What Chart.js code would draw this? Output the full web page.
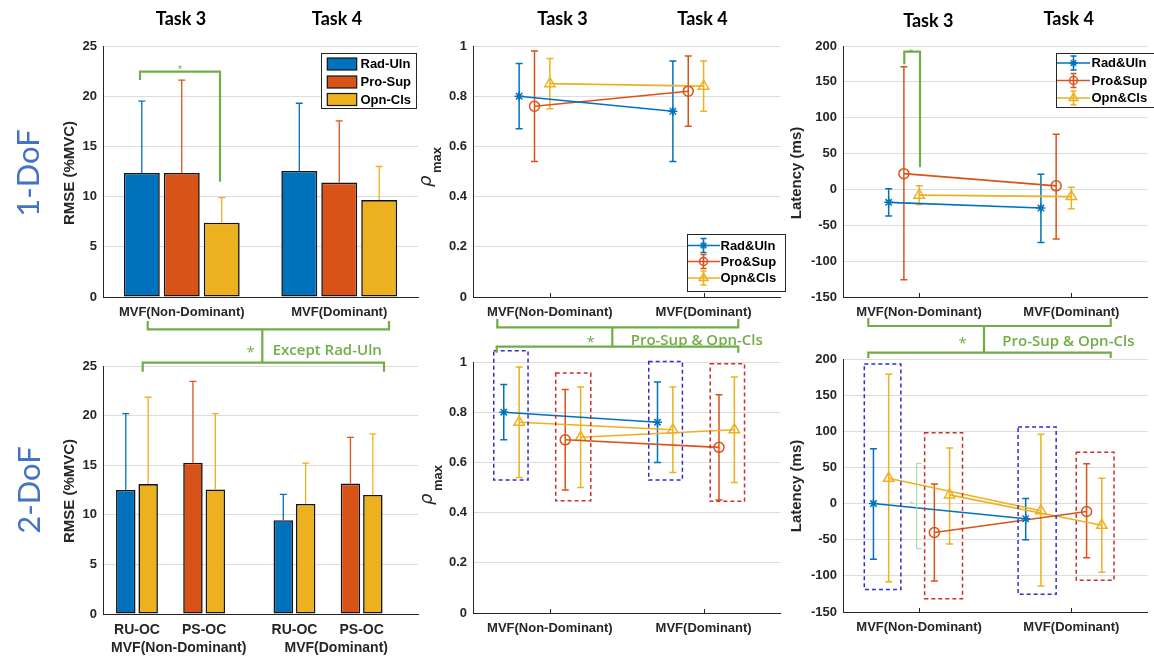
<!DOCTYPE html>
<html><head><meta charset="utf-8">
<script src="https://cdn.jsdelivr.net/npm/chart.js@4.4.1/dist/chart.umd.min.js"></script>
<style>
html,body{margin:0;padding:0;background:#fff;}
#wrap{position:relative;width:1154px;height:658px;overflow:hidden;background:#fff;}
#ov{position:absolute;left:0;top:0;z-index:5;}
.hdr{position:absolute;z-index:6;font-family:Lato,'Open Sans',sans-serif;font-weight:700;font-size:18px;color:#000;transform:translate(-50%,-50%);white-space:nowrap;line-height:1;}
.rowlab{position:absolute;z-index:6;font-family:Lato,'Open Sans',sans-serif;font-size:31px;color:#4472C4;transform:translate(-50%,-50%) rotate(-90deg);white-space:nowrap;line-height:1;}
</style></head>
<body>
<div id="wrap">
<svg id="ov" width="1154" height="658" viewBox="0 0 1154 658">
 <g fill="none" stroke="#70AD47" stroke-width="2.2">
  <path d="M140,80 V71.7 H220 V181.7"/>
  <path d="M904.3,64.3 V51.7 H920 V167.3"/>
  <path d="M147.7,321 V329.3 H389 V321 M262.3,329.3 V362.7 M142.7,371.7 V362.7 H384 V371.7"/>
  <path d="M497.3,319 V327.3 H738.3 V319 M612.3,327.3 V346.7 M496.7,352.7 V346.7 H738.3 V352.7"/>
  <path d="M868.3,318 V326 H1110.7 V318 M984,326 V352.7 M868.3,358 V352.7 H1110.7 V358"/>
 </g>
 <path d="M921.7,463.3 H916.7 V548.7 H921.7" fill="none" stroke="#A9D18E" stroke-width="1"/>
 <g fill="#70AD47" font-family="'Open Sans',Lato,sans-serif">
  <text x="180" y="72" font-size="9" text-anchor="middle">*</text>
  <text x="911" y="54" font-size="8" text-anchor="middle">*</text>
  <text x="250.7" y="357" font-size="15" text-anchor="middle">*</text>
  <text x="272.7" y="354.5" font-size="15" font-weight="600">Except Rad-Uln</text>
  <text x="590.7" y="347" font-size="15" text-anchor="middle">*</text>
  <text x="630.7" y="344.5" font-size="15" font-weight="600">Pro-Sup &amp; Opn-Cls</text>
  <text x="962.7" y="348" font-size="15" text-anchor="middle">*</text>
  <text x="1002.3" y="345.5" font-size="15" font-weight="600">Pro-Sup &amp; Opn-Cls</text>
  <text x="911.7" y="506" font-size="8" text-anchor="middle" fill="#A9D18E">*</text>
 </g>
</svg>
<div class="hdr" style="left:181px;top:18px">Task 3</div>
<div class="hdr" style="left:337px;top:18px">Task 4</div>
<div class="hdr" style="left:562.5px;top:18px">Task 3</div>
<div class="hdr" style="left:702.5px;top:18px">Task 4</div>
<div class="hdr" style="left:928.3px;top:20px">Task 3</div>
<div class="hdr" style="left:1068.7px;top:18px">Task 4</div>
<div class="rowlab" style="left:26.7px;top:173px">1-DoF</div>
<div class="rowlab" style="left:28px;top:490px">2-DoF</div>
</div>
<script>
// ================= DATA =================
const sessions = ['MVF(Non-Dominant)', 'MVF(Dominant)'];
const combos = ['RU-OC', 'PS-OC'];
const barSeries = ['Rad-Uln', 'Pro-Sup', 'Opn-Cls'];
const lineSeries = ['Rad&Uln', 'Pro&Sup', 'Opn&Cls'];

const rmseTicks = [0, 5, 10, 15, 20, 25];
const rhoTicks = [0, 0.2, 0.4, 0.6, 0.8, 1];
const latTicks = [-150, -100, -50, 0, 50, 100, 150, 200];

// 1-DoF RMSE (%MVC): mean and upper end of error bar
const rmse1RadUln = [12.35, 12.55];
const rmse1RadUlnUp = [19.5, 19.3];
const rmse1ProSup = [12.35, 11.4];
const rmse1ProSupUp = [21.6, 17.55];
const rmse1OpnCls = [7.4, 9.65];
const rmse1OpnClsUp = [9.9, 13.0];

// 1-DoF rho_max: mean, low, high
const rho1RadUln = [0.80, 0.74];
const rho1RadUlnLo = [0.67, 0.54];
const rho1RadUlnHi = [0.93, 0.94];
const rho1ProSup = [0.76, 0.82];
const rho1ProSupLo = [0.54, 0.68];
const rho1ProSupHi = [0.98, 0.96];
const rho1OpnCls = [0.85, 0.84];
const rho1OpnClsLo = [0.75, 0.74];
const rho1OpnClsHi = [0.95, 0.94];

// 1-DoF latency (ms)
const lat1RadUln = [-18, -26];
const lat1RadUlnLo = [-37, -74];
const lat1RadUlnHi = [1, 21];
const lat1ProSup = [22, 5];
const lat1ProSupLo = [-126, -69];
const lat1ProSupHi = [171, 77];
const lat1OpnCls = [-8, -10];
const lat1OpnClsLo = [-21, -27];
const lat1OpnClsHi = [5, 3];

// 2-DoF RMSE (%MVC)
const rmse2RuRad = [12.5, 9.45];
const rmse2RuRadUp = [20.2, 12.05];
const rmse2RuOpn = [13.1, 11.1];
const rmse2RuOpnUp = [21.85, 15.2];
const rmse2PsPro = [15.25, 13.15];
const rmse2PsProUp = [23.45, 17.8];
const rmse2PsOpn = [12.55, 12.0];
const rmse2PsOpnUp = [20.2, 18.15];

// 2-DoF rho_max
const rho2RuRad = [0.80, 0.76];
const rho2RuRadLo = [0.69, 0.60];
const rho2RuRadHi = [0.91, 0.92];
const rho2RuOpn = [0.76, 0.73];
const rho2RuOpnLo = [0.54, 0.56];
const rho2RuOpnHi = [0.98, 0.90];
const rho2PsPro = [0.69, 0.66];
const rho2PsProLo = [0.49, 0.45];
const rho2PsProHi = [0.89, 0.87];
const rho2PsOpn = [0.70, 0.73];
const rho2PsOpnLo = [0.50, 0.52];
const rho2PsOpnHi = [0.90, 0.94];

// 2-DoF latency (ms)
const lat2RuRad = [0, -21];
const lat2RuRadLo = [-77, -50];
const lat2RuRadHi = [76, 7];
const lat2RuOpn = [35, -10];
const lat2RuOpnLo = [-108, -114];
const lat2RuOpnHi = [179, 96];
const lat2PsPro = [-40, -11];
const lat2PsProLo = [-107, -75];
const lat2PsProHi = [27, 55];
const lat2PsOpn = [12, -30];
const lat2PsOpnLo = [-56, -95];
const lat2PsOpnHi = [77, 35];

// ================= STYLE / LAYOUT =================
const BLUE = '#0072BD', ORANGE = '#D95319', YELLOW = '#EDB120';
const AX = '#262626', GRID = '#DCDCDC';
const FONT = "'Liberation Sans', Arial, Helvetica, sans-serif";
const BOXBLUE = '#2F2FC8', BOXRED = '#D02C2C';
Chart.defaults.font.family = FONT;
Chart.defaults.color = AX;

const wrap = document.getElementById('wrap');
const PADL = 100, PADT = 24, PADB = 56, PADR = 1;

function mkCanvas(L, T, R, B) {
  const c = document.createElement('canvas');
  const W = (R - L) + PADL + PADR, H = (B - T) + PADT + PADB;
  c.width = W; c.height = H;
  c.style.cssText = `position:absolute;left:${L - PADL}px;top:${T - PADT}px;width:${W}px;height:${H}px;`;
  wrap.appendChild(c);
  return { c, ox: L - PADL, oy: T - PADT };
}

function yScale(ticksArr) {
  return {
    min: ticksArr[0], max: ticksArr[ticksArr.length - 1],
    ticks: { stepSize: ticksArr[1] - ticksArr[0], padding: 6, font: { size: 13, weight: 'bold' }, color: AX,
      callback: v => String(parseFloat(Number(v).toFixed(4))) },
    grid: { color: GRID, lineWidth: 1, drawTicks: false },
    border: { display: true, color: AX, width: 1 },
    afterFit: s => { s.width = PADL; }
  };
}
function xLinear() {
  return {
    type: 'linear', min: 0.5, max: 2.5,
    afterBuildTicks: s => { s.ticks = sessions.map((_, i) => ({ value: i + 1 })); },
    ticks: { callback: v => sessions[Math.round(v) - 1], padding: 8, font: { size: 13, weight: 'bold' }, color: AX, maxRotation: 0, autoSkip: false },
    grid: { display: false, drawTicks: false },
    border: { display: true, color: AX, width: 1 },
    afterFit: s => { s.height = PADB; }
  };
}
function xCat(showTicks) {
  return {
    type: 'category',
    ticks: { display: showTicks, padding: 8, font: { size: 13, weight: 'bold' }, color: AX, maxRotation: 0, autoSkip: false },
    grid: { display: false, drawTicks: false },
    border: { display: true, color: AX, width: 1 },
    afterFit: s => { s.height = PADB; }
  };
}

function barDs(label, mean, up, color, cp, bp) {
  return { label, data: mean, errHigh: up, backgroundColor: color, borderColor: '#141414', borderWidth: 1.6,
    borderSkipped: false, errColor: color, errWidth: 1.3, capHalf: 3.5, categoryPercentage: cp, barPercentage: bp };
}
function gapDs(cp, bp) {
  return { label: '', data: sessions.map(() => null), categoryPercentage: cp, barPercentage: bp };
}
function lineDs(label, mean, lo, hi, color, style, dodge) {
  const r = style === 'triangle' ? 6 : (style === 'circle' ? 5 : 4.5);
  return { label, data: mean.map((v, i) => ({ x: i + 1 + dodge, y: v })), errLow: lo, errHigh: hi,
    borderColor: color, backgroundColor: color, borderWidth: 1.6, showLine: true,
    pointStyle: style, pointRadius: r, pointBorderColor: color, pointBackgroundColor: 'rgba(255,255,255,0)',
    pointBorderWidth: 1.5, errWidth: 1.5, capHalf: 3.5, markerStyle: style };
}

function drawMarker(ctx, style, x, y, r, color) {
  ctx.save(); ctx.strokeStyle = color; ctx.lineWidth = 1.5; ctx.beginPath();
  if (style === 'circle') { ctx.arc(x, y, r, 0, Math.PI * 2); }
  else if (style === 'triangle') { ctx.moveTo(x, y - r); ctx.lineTo(x + r * 0.87, y + r * 0.5); ctx.lineTo(x - r * 0.87, y + r * 0.5); ctx.closePath(); }
  else { for (let k = 0; k < 4; k++) { const a = k * Math.PI / 4; ctx.moveTo(x + Math.cos(a) * r, y + Math.sin(a) * r); ctx.lineTo(x - Math.cos(a) * r, y - Math.sin(a) * r); } }
  ctx.stroke(); ctx.restore();
}

function drawErr(chart, wantBar) {
  const ctx = chart.ctx, ys = chart.scales.y;
  chart.data.datasets.forEach((ds, i) => {
    if (!ds.errHigh) return;
    const meta = chart.getDatasetMeta(i);
    if ((meta.type === 'bar') !== wantBar) return;
    ctx.save(); ctx.strokeStyle = ds.errColor || ds.borderColor; ctx.lineWidth = ds.errWidth || 1.5;
    meta.data.forEach((el, j) => {
      const v = ds.errHigh[j]; if (v == null) return;
      const x = el.x, yh = ys.getPixelForValue(v);
      const yl = ds.errLow ? ys.getPixelForValue(ds.errLow[j]) : el.y;
      const cap = ds.capHalf || 3.5;
      ctx.beginPath();
      ctx.moveTo(x, yl); ctx.lineTo(x, yh);
      ctx.moveTo(x - cap, yh); ctx.lineTo(x + cap, yh);
      if (ds.errLow) { ctx.moveTo(x - cap, yl); ctx.lineTo(x + cap, yl); }
      ctx.stroke();
    });
    ctx.restore();
  });
}

function deco(spec) {
  const ox = spec.ox, oy = spec.oy;
  return {
    id: 'deco',
    beforeDatasetsDraw(chart) { drawErr(chart, false); },
    afterDatasetsDraw(chart) {
      drawErr(chart, true);
      const ctx = chart.ctx;
      (spec.boxes || []).forEach(b => {
        const xs = chart.scales.x, ys = chart.scales.y;
        const x0 = xs.getPixelForValue(b.i + 1 + b.x0), x1 = xs.getPixelForValue(b.i + 1 + b.x1);
        const y0 = ys.getPixelForValue(b.y1), y1 = ys.getPixelForValue(b.y0);
        ctx.save(); ctx.setLineDash([4, 3]); ctx.strokeStyle = b.c; ctx.lineWidth = 1.5;
        ctx.strokeRect(x0, y0, x1 - x0, y1 - y0); ctx.restore();
      });
    },
    afterDraw(chart) {
      const ctx = chart.ctx, ca = chart.chartArea;
      if (spec.inTicks) {
        const xs = chart.scales.x;
        ctx.save(); ctx.strokeStyle = AX; ctx.lineWidth = 1; ctx.beginPath();
        sessions.forEach((_, i) => { const px = Math.round(xs.getPixelForValue(i + 1)) + 0.5; ctx.moveTo(px, ca.bottom); ctx.lineTo(px, ca.bottom - 4); });
        ctx.stroke(); ctx.restore();
      }
      if (spec.yTitle) {
        const t = spec.yTitle;
        ctx.save(); ctx.translate(t.x - ox, t.y - oy); ctx.rotate(-Math.PI / 2);
        ctx.fillStyle = AX; ctx.textAlign = 'center'; ctx.textBaseline = 'middle';
        ctx.font = 'bold 15px ' + FONT; ctx.fillText(t.text, 0, 0); ctx.restore();
      }
      if (spec.rho) {
        const r = spec.rho;
        ctx.save(); ctx.translate(r.x - ox, r.y - oy); ctx.rotate(-Math.PI / 2);
        ctx.fillStyle = AX; ctx.textAlign = 'left'; ctx.textBaseline = 'alphabetic';
        ctx.font = "italic 18px 'DejaVu Sans', sans-serif"; ctx.fillText('\u03C1', 0, 0);
        ctx.font = 'bold 13px ' + FONT; ctx.fillText('max', 14, 10); ctx.restore();
      }
      if (spec.legend) {
        const lg = spec.legend;
        ctx.save();
        ctx.fillStyle = '#fff'; ctx.fillRect(lg.x0 - ox, lg.y0 - oy, lg.x1 - lg.x0, lg.y1 - lg.y0);
        ctx.strokeStyle = AX; ctx.lineWidth = 1;
        ctx.strokeRect(Math.round(lg.x0 - ox) + 0.5, Math.round(lg.y0 - oy) + 0.5, Math.round(lg.x1 - lg.x0), Math.round(lg.y1 - lg.y0));
        lg.rows.forEach((ry, k) => {
          const ds = chart.data.datasets[k];
          const y = ry - oy;
          if (lg.kind === 'bar') {
            ctx.fillStyle = ds.backgroundColor; ctx.fillRect(lg.ix0 - ox, y - 6, lg.ix1 - lg.ix0, 12);
            ctx.strokeStyle = '#141414'; ctx.lineWidth = 1.2; ctx.strokeRect(lg.ix0 - ox, y - 6, lg.ix1 - lg.ix0, 12);
          } else {
            const c = ds.borderColor, mx = lg.mx - ox;
            ctx.strokeStyle = c; ctx.lineWidth = 1.6; ctx.beginPath();
            ctx.moveTo(lg.ix0 - ox, y); ctx.lineTo(lg.ix1 - ox, y);
            ctx.moveTo(mx, y - 7); ctx.lineTo(mx, y + 7);
            ctx.moveTo(mx - 3, y - 7); ctx.lineTo(mx + 3, y - 7);
            ctx.moveTo(mx - 3, y + 7); ctx.lineTo(mx + 3, y + 7);
            ctx.stroke();
            drawMarker(ctx, ds.markerStyle, mx, y, ds.markerStyle === 'triangle' ? 5 : 4, c);
          }
          ctx.fillStyle = '#000'; ctx.font = 'bold 13px ' + FONT; ctx.textAlign = 'left'; ctx.textBaseline = 'middle';
          ctx.fillText(ds.label, lg.tx - ox, y + 0.5);
        });
        ctx.restore();
      }
      if (spec.comboRows) {
        const m = i => chart.getDatasetMeta(i);
        ctx.save(); ctx.fillStyle = AX; ctx.font = 'bold 14px ' + FONT; ctx.textAlign = 'center'; ctx.textBaseline = 'middle';
        sessions.forEach((s, i) => {
          const xRU = (m(0).data[i].x + m(1).data[i].x) / 2, xPS = (m(3).data[i].x + m(4).data[i].x) / 2;
          ctx.fillText(combos[0], xRU, ca.bottom + 16);
          ctx.fillText(combos[1], xPS, ca.bottom + 16);
          ctx.fillText(s, chart.scales.x.getPixelForValue(i) - 3, ca.bottom + 34);
        });
        ctx.restore();
      }
    }
  };
}

function build(L, T, R, B, type, datasets, xs, ys, spec) {
  const cv = mkCanvas(L, T, R, B);
  spec.ox = cv.ox; spec.oy = cv.oy;
  return new Chart(cv.c, {
    type,
    data: { labels: type === 'bar' ? sessions : undefined, datasets },
    options: {
      responsive: false, animation: false, devicePixelRatio: 1, events: [],
      layout: { padding: { left: 0, top: PADT, right: PADR, bottom: 0 } },
      plugins: { legend: { display: false }, tooltip: { enabled: false } },
      scales: { x: xs, y: ys }
    },
    plugins: [deco(spec)]
  });
}

// ---- Panel 1: RMSE 1-DoF ----
const CP1 = 0.761, BP1 = 0.9;
build(103, 46, 418, 297, 'bar', [
  barDs(barSeries[0], rmse1RadUln, rmse1RadUlnUp, BLUE, CP1, BP1),
  barDs(barSeries[1], rmse1ProSup, rmse1ProSupUp, ORANGE, CP1, BP1),
  barDs(barSeries[2], rmse1OpnCls, rmse1OpnClsUp, YELLOW, CP1, BP1)
], xCat(true), yScale(rmseTicks), {
  yTitle: { text: 'RMSE (%MVC)', x: 70, y: 173 },
  legend: { kind: 'bar', x0: 321, y0: 53, x1: 416, y1: 108, rows: [64, 82, 99.5], ix0: 327.3, ix1: 356.7, tx: 360.5 }
});

// ---- Panel 2: rho 1-DoF ----
build(473, 46, 787, 297, 'scatter', [
  lineDs(lineSeries[0], rho1RadUln, rho1RadUlnLo, rho1RadUlnHi, BLUE, 'star', -0.2),
  lineDs(lineSeries[1], rho1ProSup, rho1ProSupLo, rho1ProSupHi, ORANGE, 'circle', -0.1),
  lineDs(lineSeries[2], rho1OpnCls, rho1OpnClsLo, rho1OpnClsHi, YELLOW, 'triangle', 0)
], xLinear(), yScale(rhoTicks), {
  inTicks: true,
  rho: { x: 431, y: 187 },
  legend: { kind: 'line', x0: 686.5, y0: 234, x1: 784, y1: 291, rows: [245.5, 261.5, 278], ix0: 688, ix1: 720, mx: 703.5, tx: 720.5 }
});

// ---- Panel 3: latency 1-DoF ----
build(843, 46, 1154, 297, 'scatter', [
  lineDs(lineSeries[0], lat1RadUln, lat1RadUlnLo, lat1RadUlnHi, BLUE, 'star', -0.2),
  lineDs(lineSeries[1], lat1ProSup, lat1ProSupLo, lat1ProSupHi, ORANGE, 'circle', -0.1),
  lineDs(lineSeries[2], lat1OpnCls, lat1OpnClsLo, lat1OpnClsHi, YELLOW, 'triangle', 0)
], xLinear(), yScale(latTicks), {
  inTicks: true,
  yTitle: { text: 'Latency (ms)', x: 797, y: 173 },
  legend: { kind: 'line', x0: 1056, y0: 53, x1: 1153.5, y1: 107, rows: [63, 80.5, 98], ix0: 1057, ix1: 1090, mx: 1073.5, tx: 1091.5 }
});

// ---- Panel 4: RMSE 2-DoF ----
const CP4 = 0.853, BP4 = 0.87;
build(103, 366, 418, 614, 'bar', [
  barDs('RU-OC Rad-Uln', rmse2RuRad, rmse2RuRadUp, BLUE, CP4, BP4),
  barDs('RU-OC Opn-Cls', rmse2RuOpn, rmse2RuOpnUp, YELLOW, CP4, BP4),
  gapDs(CP4, BP4),
  barDs('PS-OC Pro-Sup', rmse2PsPro, rmse2PsProUp, ORANGE, CP4, BP4),
  barDs('PS-OC Opn-Cls', rmse2PsOpn, rmse2PsOpnUp, YELLOW, CP4, BP4),
  gapDs(CP4, BP4)
], xCat(false), yScale(rmseTicks), {
  yTitle: { text: 'RMSE (%MVC)', x: 70, y: 491 },
  comboRows: true
});

// ---- Panel 5: rho 2-DoF ----
build(473, 362, 787, 613, 'scatter', [
  lineDs('RU-OC Rad&Uln', rho2RuRad, rho2RuRadLo, rho2RuRadHi, BLUE, 'star', -0.3),
  lineDs('RU-OC Opn&Cls', rho2RuOpn, rho2RuOpnLo, rho2RuOpnHi, YELLOW, 'triangle', -0.2),
  lineDs('PS-OC Pro&Sup', rho2PsPro, rho2PsProLo, rho2PsProHi, ORANGE, 'circle', 0.1),
  lineDs('PS-OC Opn&Cls', rho2PsOpn, rho2PsOpnLo, rho2PsOpnHi, YELLOW, 'triangle', 0.2)
], xLinear(), yScale(rhoTicks), {
  inTicks: true,
  rho: { x: 432, y: 505 },
  boxes: [
    { i: 0, x0: -0.365, x1: -0.142, y0: 0.53, y1: 1.045, c: BOXBLUE },
    { i: 0, x0: 0.038, x1: 0.266, y0: 0.447, y1: 0.956, c: BOXRED },
    { i: 1, x0: -0.357, x1: -0.138, y0: 0.53, y1: 1.002, c: BOXBLUE },
    { i: 1, x0: 0.043, x1: 0.266, y0: 0.445, y1: 0.993, c: BOXRED }
  ]
});

// ---- Panel 6: latency 2-DoF ----
build(843, 359, 1154, 612, 'scatter', [
  lineDs('RU-OC Rad&Uln', lat2RuRad, lat2RuRadLo, lat2RuRadHi, BLUE, 'star', -0.3),
  lineDs('RU-OC Opn&Cls', lat2RuOpn, lat2RuOpnLo, lat2RuOpnHi, YELLOW, 'triangle', -0.2),
  lineDs('PS-OC Pro&Sup', lat2PsPro, lat2PsProLo, lat2PsProHi, ORANGE, 'circle', 0.1),
  lineDs('PS-OC Opn&Cls', lat2PsOpn, lat2PsOpnLo, lat2PsOpnHi, YELLOW, 'triangle', 0.2)
], xLinear(), yScale(latTicks), {
  inTicks: true,
  yTitle: { text: 'Latency (ms)', x: 797, y: 486 },
  boxes: [
    { i: 0, x0: -0.36, x1: -0.12, y0: -119, y1: 193, c: BOXBLUE },
    { i: 0, x0: 0.036, x1: 0.285, y0: -131.5, y1: 98, c: BOXRED },
    { i: 1, x0: -0.35, x1: -0.10, y0: -125.6, y1: 106, c: BOXBLUE },
    { i: 1, x0: 0.032, x1: 0.28, y0: -106, y1: 71, c: BOXRED }
  ]
});
</script>
</body></html>
